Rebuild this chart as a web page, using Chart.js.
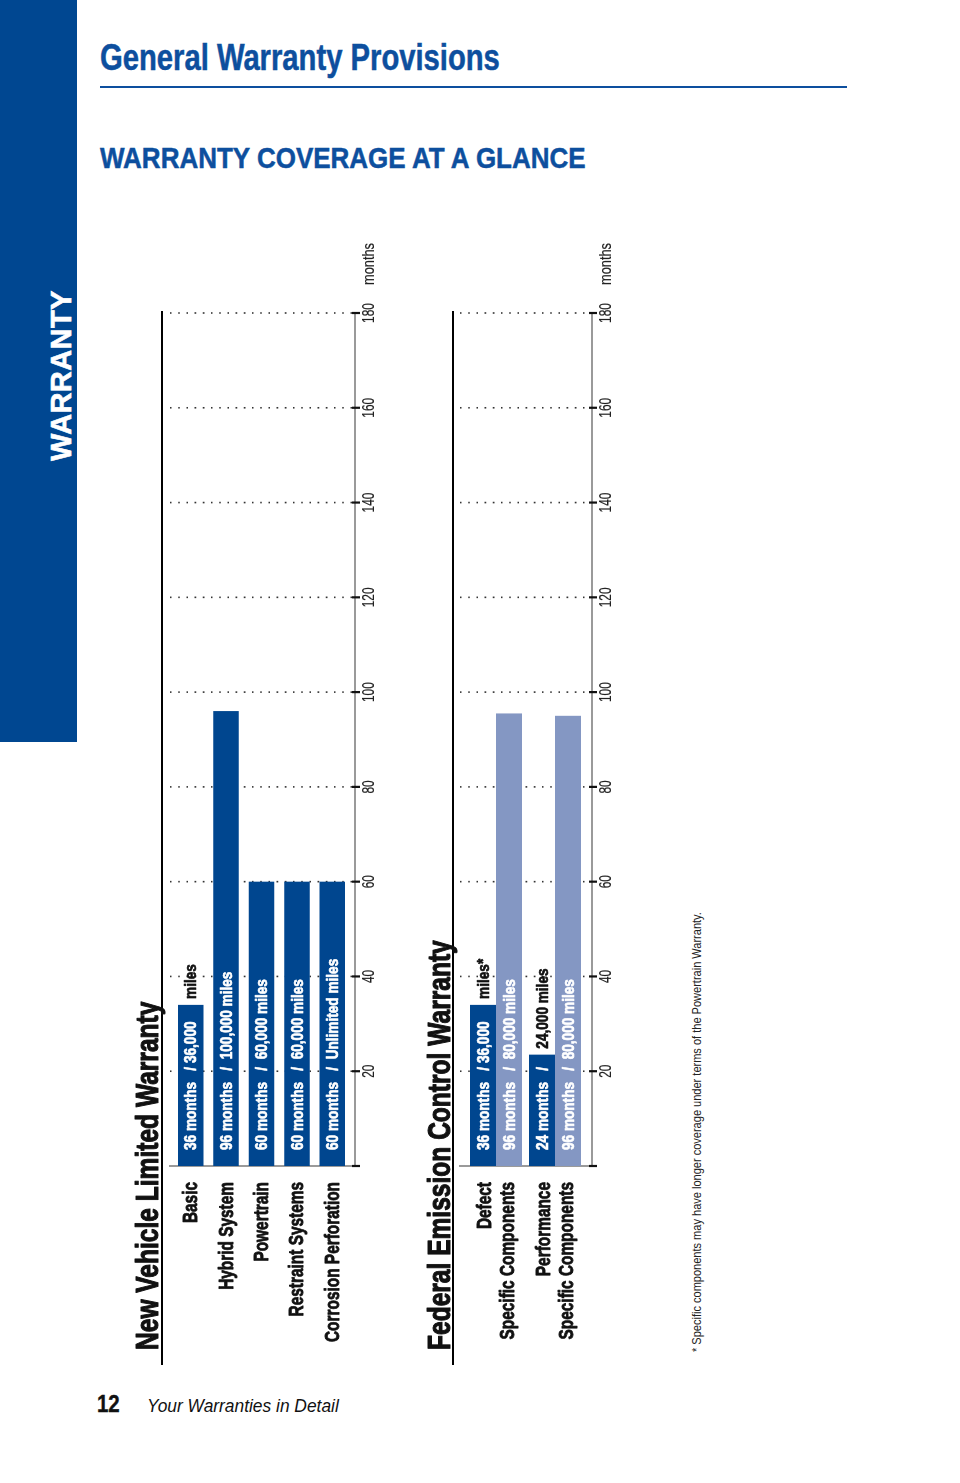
<!DOCTYPE html>
<html><head><meta charset="utf-8">
<script src="https://cdn.jsdelivr.net/npm/chart.js@4.4.1/dist/chart.umd.min.js"></script>
<style>
html,body{margin:0;padding:0;background:#fff;}
body{width:960px;height:1483px;position:relative;overflow:hidden;font-family:'Liberation Sans',Arial,sans-serif;}
.side{position:absolute;left:0;top:0;width:77px;height:742px;background:#004791;}
.t{position:absolute;white-space:nowrap;transform-origin:0 0;}
.sideText{left:47px;top:461px;font-weight:bold;font-size:29px;line-height:29px;color:#fff;letter-spacing:0.4px;-webkit-text-stroke:0.6px #fff;}
.h1{left:100px;top:39.5px;font-weight:bold;font-size:36px;line-height:36px;color:#0d4f9e;-webkit-text-stroke:0.5px #0d4f9e;}
.rule{position:absolute;left:100px;top:86px;width:747px;height:1.5px;background:#0d4f9e;}
.h2{left:100px;top:143px;font-weight:bold;font-size:30px;line-height:30px;color:#0d4f9e;-webkit-text-stroke:0.5px #0d4f9e;}
.pg{left:97px;top:1392px;font-weight:bold;font-size:24px;line-height:24px;color:#111;-webkit-text-stroke:0.4px #111;}
.foot{left:147px;top:1397px;font-style:italic;font-size:18px;line-height:18px;color:#111;}
.note{left:690px;top:1352px;font-size:12.5px;line-height:14px;color:#222;}
.chartBox{position:absolute;transform-origin:0 0;transform:rotate(-90deg);}
</style>
</head>
<body>
<div class="side"></div>
<div class="t sideText" data-rot="1">WARRANTY</div>
<div class="t h1" data-fit="400">General Warranty Provisions</div>
<div class="rule"></div>
<div class="t h2" data-fit="486">WARRANTY COVERAGE AT A GLANCE</div>

<div class="chartBox" style="left:125px;top:1370px;width:1140px;height:270px;"><canvas id="c1" width="1140" height="270"></canvas></div>
<div class="chartBox" style="left:415px;top:1370px;width:1140px;height:225px;"><canvas id="c2" width="1140" height="225"></canvas></div>

<div class="t note" data-rot="1" data-fit="440">* Specific components may have longer coverage under terms of the Powertrain Warranty.</div>
<div class="t pg" data-fit="23">12</div>
<div class="t foot" data-fit="192">Your Warranties in Detail</div>

<script>
// ---------- DATA ----------
const tickValues = [20, 40, 60, 80, 100, 120, 140, 160, 180];
const tickMarkValues = [0, 20, 40, 60, 80, 100, 120, 140, 160, 180];
const axisUnit = 'months';

const nvlwTitle = 'New Vehicle Limited Warranty';
const nvlwCategories = ['Basic', 'Hybrid System', 'Powertrain', 'Restraint Systems', 'Corrosion Perforation'];
const nvlwMonths = [34, 96, 60, 60, 60];
const nvlwInside = ['36 months   / 36,000', '96 months   /  100,000 miles', '60 months   /  60,000 miles', '60 months   /  60,000 miles', '60 months   /  Unlimited miles'];
const nvlwOutside = ['miles', '', '', '', ''];

const femTitle = 'Federal Emission Control Warranty';
const femCategories = [['Defect', 'Specific Components'], ['Performance', 'Specific Components']];
const femWarrantyMonths = [34, 23.5];
const femComponentMonths = [95.5, 95];
const femWarrantyInside = ['36 months   / 36,000', '24 months   /'];
const femWarrantyOutside = ['miles*', '24,000 miles'];
const femComponentInside = ['96 months   /  80,000 miles', '96 months   /  80,000 miles'];
const femComponentOutside = ['', ''];

// ---------- HTML text fitting ----------
document.querySelectorAll('.t').forEach(el => {
  const fit = el.dataset.fit ? parseFloat(el.dataset.fit) / el.scrollWidth : 1;
  const rot = el.dataset.rot ? 'rotate(-90deg) ' : '';
  el.style.transform = rot + 'scaleX(' + fit + ')';
});

// ---------- STYLE ----------
const SANS = "'Liberation Sans',Arial,sans-serif";
const DARK = '#00468f';
const LIGHT = '#8497c3';

function txt(ctx, s, x, y, font, k, align, color, stroke, baseline) {
  ctx.save();
  ctx.font = font; ctx.fillStyle = color; ctx.textAlign = align; ctx.textBaseline = baseline || 'middle';
  ctx.translate(x, y); ctx.scale(k, 1);
  ctx.fillText(s, 0, 0);
  if (stroke) { ctx.strokeStyle = color; ctx.lineWidth = stroke; ctx.lineJoin = 'round'; ctx.strokeText(s, 0, 0); }
  ctx.restore();
}

const decor = {
  id: 'decor',
  beforeDatasetsDraw(chart, args, o) {
    const ctx = chart.ctx, x = chart.scales.x;
    ctx.save();
    ctx.strokeStyle = '#333';
    ctx.lineWidth = 1.6;
    ctx.setLineDash([1.6, 6.6]);
    tickValues.forEach(v => {
      const px = x.getPixelForValue(v);
      ctx.beginPath(); ctx.moveTo(px, o.gridStart); ctx.lineTo(px, o.axisPos - 3); ctx.stroke();
    });
    ctx.setLineDash([]);
    const p0 = x.getPixelForValue(0);
    ctx.strokeStyle = '#9a9a9a'; ctx.lineWidth = 2;
    ctx.beginPath(); ctx.moveTo(p0, o.gridStart - 1); ctx.lineTo(p0, o.axisPos); ctx.stroke();
    ctx.restore();
  },
  afterDatasetsDraw(chart, args, o) {
    const ctx = chart.ctx, x = chart.scales.x, y = chart.scales.y;
    ctx.save();
    ctx.strokeStyle = '#9a9a9a'; ctx.lineWidth = 2;
    ctx.beginPath(); ctx.moveTo(x.getPixelForValue(0), o.axisPos); ctx.lineTo(x.getPixelForValue(180), o.axisPos); ctx.stroke();
    ctx.strokeStyle = '#111'; ctx.lineWidth = 2.2;
    tickMarkValues.forEach(v => {
      const px = x.getPixelForValue(v);
      ctx.beginPath(); ctx.moveTo(px, o.axisPos - 3); ctx.lineTo(px, o.axisPos + 5); ctx.stroke();
    });
    ctx.strokeStyle = '#000'; ctx.lineWidth = 2;
    ctx.beginPath(); ctx.moveTo(5, o.sepPos); ctx.lineTo(x.getPixelForValue(180) + 2, o.sepPos); ctx.stroke();
    ctx.restore();
    // tick labels
    tickValues.forEach(v => txt(ctx, String(v), x.getPixelForValue(v), o.axisPos + 15, '16px ' + SANS, 0.74, 'center', '#222', 0.2));
    txt(ctx, axisUnit, x.getPixelForValue(180) + 28, o.axisPos + 15, '16px ' + SANS, 0.8, 'left', '#222', 0.2);
    // category labels
    chart.data.labels.forEach((lab, i) => {
      const lines = Array.isArray(lab) ? lab : [lab];
      const cy = y.getPixelForTick(i);
      lines.forEach((s, j) => {
        const off = (j - (lines.length - 1) / 2) * 23;
        txt(ctx, s, x.left - 16, cy + off + 1, 'bold 20px ' + SANS, 0.77, 'right', '#111', 0.8);
      });
    });
    // title
    txt(ctx, o.title, 20, o.titleBase, 'bold 30.5px ' + SANS, 0.805, 'left', '#111', 1.1, 'alphabetic');
    // bar labels
    o.inside.forEach((arr, di) => {
      chart.getDatasetMeta(di).data.forEach((el, i) => {
        if (arr[i]) txt(ctx, arr[i], el.base + 16, el.y + 1, 'bold 17px ' + SANS, 0.8, 'left', '#fff', 0.7);
        const out = o.outside[di][i];
        if (out) txt(ctx, out, el.x + 6, el.y + 1, 'bold 17px ' + SANS, 0.8, 'left', '#111', 0.7);
      });
    });
  }
};

function makeChart(id, labels, datasets, cfg) {
  const H = document.getElementById(id).height;
  return new Chart(document.getElementById(id), {
    type: 'bar',
    data: { labels, datasets },
    plugins: [decor],
    options: {
      indexAxis: 'y',
      responsive: false,
      animation: false,
      layout: { padding: { top: cfg.areaTop, right: 83, bottom: 0, left: 0 } },
      plugins: {
        legend: { display: false },
        tooltip: { enabled: false },
        decor: cfg
      },
      scales: {
        x: {
          type: 'linear', position: 'bottom', min: 0, max: 180,
          grid: { display: false, drawTicks: false }, border: { display: false },
          afterBuildTicks: s => { s.ticks = tickValues.map(v => ({ value: v })); },
          afterFit: s => { s.height = H - cfg.areaBottom; },
          ticks: { display: false }
        },
        y: {
          type: 'category',
          grid: { display: false, drawTicks: false }, border: { display: false },
          afterFit: s => { s.width = 204; },
          ticks: { display: false }
        }
      }
    }
  });
}

makeChart('c1', nvlwCategories, [
  { data: nvlwMonths, backgroundColor: DARK, barPercentage: 0.72, categoryPercentage: 1 }
], {
  areaTop: 48, areaBottom: 225, axisPos: 230, sepPos: 37, gridStart: 45, titleBase: 33,
  title: nvlwTitle, inside: [nvlwInside], outside: [nvlwOutside]
});

makeChart('c2', femCategories, [
  { data: femWarrantyMonths, backgroundColor: DARK, barPercentage: 1, categoryPercentage: 0.881 },
  { data: femComponentMonths, backgroundColor: LIGHT, barPercentage: 1, categoryPercentage: 0.881 }
], {
  areaTop: 51.5, areaBottom: 169.5, axisPos: 177, sepPos: 38, gridStart: 45, titleBase: 35,
  title: femTitle, inside: [femWarrantyInside, femComponentInside], outside: [femWarrantyOutside, femComponentOutside]
});
</script>
</body></html>
